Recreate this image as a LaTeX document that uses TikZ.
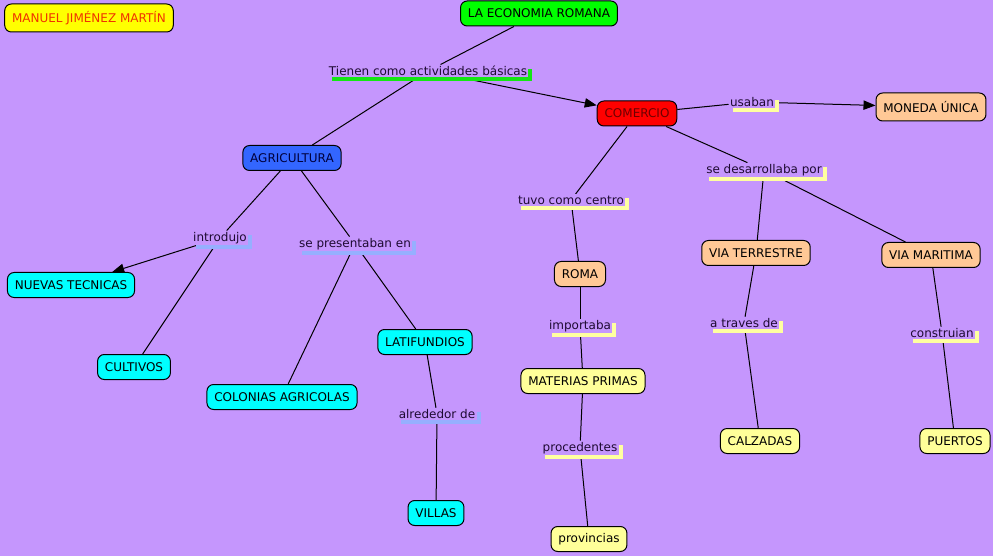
\documentclass[tikz,border=0pt]{standalone}
\usepackage{fontspec}
\setmainfont{DejaVu Sans}
\usetikzlibrary{arrows.meta,shadows}
\definecolor{fondo}{RGB}{197,150,253}
\definecolor{amarillo}{RGB}{255,255,0}
\definecolor{rojotxt}{RGB}{240,50,0}
\definecolor{verde}{RGB}{0,255,0}
\definecolor{rojo}{RGB}{255,0,0}
\definecolor{rojoosc}{RGB}{110,0,0}
\definecolor{melocoton}{RGB}{255,200,150}
\definecolor{azul}{RGB}{51,102,255}
\definecolor{azulosc}{RGB}{0,0,60}
\definecolor{cian}{RGB}{0,255,255}
\definecolor{crema}{RGB}{255,255,153}
\definecolor{verdesombra}{RGB}{20,230,20}
\definecolor{azulsombra}{RGB}{150,175,255}
\definecolor{cremasombra}{RGB}{255,255,160}
\definecolor{txtenlace}{RGB}{30,10,50}
\pgfdeclarelayer{capafondo}
\pgfdeclarelayer{lineas}
\pgfsetlayers{capafondo,lineas,main}
\begin{document}
\begin{tikzpicture}[x=0.75pt,y=-0.75pt,
	concepto/.style={draw=black,line width=0.75pt,rounded corners=5pt,fill=#1,
		minimum height=18.75pt,inner xsep=5.5pt,inner ysep=0pt,font=\fontsize{9}{11}\selectfont},
	enlace/.style={fill=fondo,inner sep=1pt,text=txtenlace,font=\fontsize{9}{11}\selectfont,
		drop shadow={shadow xshift=3pt,shadow yshift=-3pt,fill=#1,opacity=1}},
	flecha/.style={-{Triangle[length=9pt,width=7pt]}}]
	\begin{pgfonlayer}{capafondo}
		\fill[fondo] (0,0) rectangle (993,556);
	\end{pgfonlayer}
	\useasboundingbox (0,0) rectangle (993,556);
	% conceptos
	\node[concepto=amarillo,text=rojotxt,minimum height=21pt] (autor) at (89,18) {MANUEL JIMÉNEZ MARTÍN};
	\node[concepto=verde] (economia) at (539,13.5) {LA ECONOMIA ROMANA};
	\node[concepto=rojo,text=rojoosc] (comercio) at (637,113.5) {COMERCIO};
	\node[concepto=melocoton,minimum height=21pt] (moneda) at (931,107) {MONEDA ÚNICA};
	\node[concepto=azul,text=azulosc] (agricultura) at (292,158) {AGRICULTURA};
	\node[concepto=cian] (tecnicas) at (71,285) {NUEVAS TECNICAS};
	\node[concepto=melocoton] (terrestre) at (756,253) {VIA TERRESTRE};
	\node[concepto=melocoton] (maritima) at (931,255) {VIA MARITIMA};
	\node[concepto=melocoton] (roma) at (580,274) {ROMA};
	\node[concepto=cian] (cultivos) at (134,367) {CULTIVOS};
	\node[concepto=cian] (latifundios) at (425,342) {LATIFUNDIOS};
	\node[concepto=cian] (colonias) at (282,397) {COLONIAS AGRICOLAS};
	\node[concepto=crema] (materias) at (583,381) {MATERIAS PRIMAS};
	\node[concepto=crema] (calzadas) at (760,441) {CALZADAS};
	\node[concepto=crema] (puertos) at (955,441) {PUERTOS};
	\node[concepto=cian] (villas) at (436,513) {VILLAS};
	\node[concepto=crema] (provincias) at (589,539) {provincias};
	% frases de enlace
	\node[enlace=verdesombra] (tienen) at (428,71) {Tienen como actividades básicas};
	\node[enlace=cremasombra] (usaban) at (752,102) {usaban};
	\node[enlace=cremasombra] (desarrollaba) at (764,170) {se desarrollaba por};
	\node[enlace=cremasombra] (centro) at (571,200) {tuvo como centro};
	\node[enlace=azulsombra] (introdujo) at (220,238) {introdujo};
	\node[enlace=azulsombra] (presentaban) at (355,244) {se presentaban en};
	\node[enlace=cremasombra] (importaba) at (580,326) {importaba};
	\node[enlace=cremasombra] (traves) at (744,323) {a traves de};
	\node[enlace=cremasombra] (construian) at (942,333) {construian};
	\node[enlace=azulsombra] (alrededor) at (437,414) {alrededor de};
	\node[enlace=cremasombra] (procedentes) at (580,448) {procedentes};
	% conectores
	\begin{pgfonlayer}{lineas}
		\begin{scope}[line width=0.75pt]
		\draw (economia) -- (tienen);
		\draw[flecha] (tienen) -- (comercio);
		\draw (tienen) -- (agricultura);
		\draw (comercio) -- (usaban);
		\draw[flecha] (usaban) -- (moneda);
		\draw (comercio) -- (desarrollaba);
		\draw (desarrollaba) -- (terrestre);
		\draw (desarrollaba) -- (maritima);
		\draw (comercio) -- (centro);
		\draw (centro) -- (roma);
		\draw (roma) -- (importaba);
		\draw (importaba) -- (materias);
		\draw (materias) -- (procedentes);
		\draw (procedentes) -- (provincias);
		\draw (agricultura) -- (introdujo);
		\draw[flecha] (introdujo) -- (tecnicas);
		\draw (introdujo) -- (cultivos);
		\draw (agricultura) -- (presentaban);
		\draw (presentaban) -- (colonias);
		\draw (presentaban) -- (latifundios);
		\draw (latifundios) -- (alrededor);
		\draw (alrededor) -- (villas);
		\draw (terrestre) -- (traves);
		\draw (traves) -- (calzadas);
		\draw (maritima) -- (construian);
		\draw (construian) -- (puertos);
		\end{scope}
	\end{pgfonlayer}
\end{tikzpicture}
\end{document}
